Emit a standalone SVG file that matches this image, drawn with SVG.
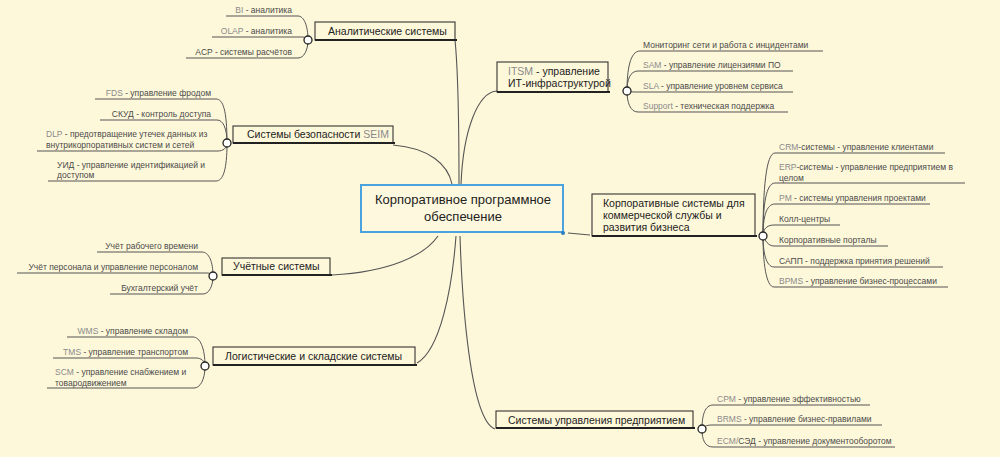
<svg xmlns="http://www.w3.org/2000/svg" width="1000" height="457" viewBox="0 0 1000 457">
<style>
.bg{fill:#fef8da}
.c{fill:none;stroke:#555;stroke-width:1.1}
.u{fill:none;stroke:#555;stroke-width:1}
.dot{fill:#fff;stroke:#222;stroke-width:1.3}
.box{fill:none;stroke:#333;stroke-width:1.1}
.bb{fill:none;stroke:#222;stroke-width:1.8}
.bt{font-family:"Liberation Sans",Arial,sans-serif;font-size:10.5px;fill:#222}
.ct{font-family:"Liberation Sans",Arial,sans-serif;font-size:13px;fill:#222;text-anchor:middle}
.t{font-family:"Liberation Sans",Arial,sans-serif;font-size:8.5px;fill:#4a4a4a}
.l{fill:#8a8a8a}
.e{text-anchor:end}
</style>
<rect class="bg" x="0" y="0" width="1000" height="457"/>

<g id="connectors">
<path class="c" d="M459 185 C459 120 458 70 455 40"/>
<path class="c" d="M497 91 C478 92 463 130 461 185"/>
<path class="c" d="M393 145 C430 148 448 165 452 184"/>
<path class="c" d="M332 275 C390 272 425 255 438 236"/>
<path class="c" d="M417 363 C440 350 452 290 456 236"/>
<path class="c" d="M460 236 C462 300 470 420 495 429"/>
<path class="c" d="M568 233 L590 235"/>
<path class="u" d="M226 16 H298 C304 16 308 26 308 40"/>
<path class="u" d="M212 37 H302 C305 37 307 38 308 40"/>
<path class="u" d="M186 58 H298 C304 58 308 50 308 40"/>
<path class="u" d="M95 99 H216 C223 99 227 110 227 143"/>
<path class="u" d="M100 120 H217 C223 120 227 128 227 143"/>
<path class="u" d="M37 151 H218 C223 151 227 148 227 143"/>
<path class="u" d="M48 181 H216 C223 181 227 170 227 143"/>
<path class="u" d="M97 252 H202 C209 252 213 262 213 276"/>
<path class="u" d="M17 273 H207 C210 273 212 274 213 276"/>
<path class="u" d="M110 294 H203 C209 294 213 286 213 276"/>
<path class="u" d="M67 337 H193 C200 337 205 348 205 366"/>
<path class="u" d="M53 358 H196 C201 358 205 361 205 366"/>
<path class="u" d="M47 388 H194 C200 388 205 380 205 366"/>
<path class="u" d="M627 91 C627 70 630 51 640 51 H823"/>
<path class="u" d="M627 91 C627 80 630 71 638 71 H793"/>
<path class="u" d="M627 91 C628 91 630 92 634 92 H793"/>
<path class="u" d="M627 91 C627 102 630 112 638 112 H788"/>
<path class="u" d="M763 236 C763 190 766 153 775 153 H945"/>
<path class="u" d="M763 236 C763 205 766 183 775 183 H965"/>
<path class="u" d="M763 236 C763 218 766 204 775 204 H930"/>
<path class="u" d="M763 236 C763 230 766 225 774 225 H840"/>
<path class="u" d="M763 236 C765 240 768 246 774 246 H888"/>
<path class="u" d="M763 236 C763 252 766 267 774 267 H943"/>
<path class="u" d="M763 236 C763 262 766 287 774 287 H948"/>
<path class="u" d="M702 429 C702 415 705 405 713 405 H870"/>
<path class="u" d="M702 429 C703 427 706 425 712 425 H882"/>
<path class="u" d="M702 429 C702 440 705 447 713 447 H895"/>
<circle class="dot" cx="308" cy="40" r="4"/>
<circle class="dot" cx="227" cy="143" r="4"/>
<circle class="dot" cx="213" cy="276" r="4"/>
<circle class="dot" cx="205" cy="366" r="4"/>
<circle class="dot" cx="627" cy="91" r="4"/>
<circle class="dot" cx="763" cy="236" r="4"/>
<circle class="dot" cx="702" cy="429" r="4"/>
</g>

<g id="center">
<rect x="361" y="185" width="202" height="47" fill="#fef9de" stroke="#4aa3df" stroke-width="2"/>
<circle cx="563" cy="233" r="2" fill="#2a7fc0"/>
<text class="ct" x="463" y="204">Корпоративное программное</text>
<text class="ct" x="463" y="221">обеспечение</text>
</g>

<g id="analytic">
<rect class="box" x="315" y="22" width="140" height="18"/>
<path class="bb" d="M315 40 H457"/>
<text class="bt" x="328" y="35">Аналитические системы</text>
<text class="t e" x="292" y="13"><tspan class="l">BI</tspan> - аналитика</text>
<text class="t e" x="292" y="34"><tspan class="l">OLAP</tspan> - аналитика</text>
<text class="t e" x="292" y="55">ACP - системы расчётов</text>
</g>

<g id="security">
<rect class="box" x="233" y="126" width="160" height="17"/>
<path class="bb" d="M233 143 H395"/>
<text class="bt" x="247" y="138">Системы безопасности <tspan class="l">SEIM</tspan></text>
<text class="t e" x="211" y="96"><tspan class="l">FDS</tspan> - управление фродом</text>
<text class="t e" x="211" y="117">СКУД - контроль доступа</text>
<text class="t" x="46" y="137"><tspan class="l">DLP</tspan> - предотвращение утечек данных из</text>
<text class="t" x="46" y="147.5">внутрикорпоративных систем и сетей</text>
<text class="t" x="57" y="167.5">УИД - управление идентификацией и</text>
<text class="t" x="57" y="178">доступом</text>
</g>

<g id="accounting">
<rect class="box" x="222" y="258" width="108" height="17"/>
<path class="bb" d="M222 275 H332"/>
<text class="bt" x="233" y="270">Учётные системы</text>
<text class="t e" x="198" y="249">Учёт рабочего времени</text>
<text class="t e" x="198" y="270">Учёт персонала и управление персоналом</text>
<text class="t e" x="198" y="291">Бухгалтерский учёт</text>
</g>

<g id="logistics">
<rect class="box" x="213" y="347" width="202" height="18"/>
<path class="bb" d="M213 365 H417"/>
<text class="bt" x="225" y="360">Логистические и складские системы</text>
<text class="t e" x="188" y="334"><tspan class="l">WMS</tspan> - управление складом</text>
<text class="t e" x="188" y="355"><tspan class="l">TMS</tspan> - управление транспортом</text>
<text class="t" x="55" y="375"><tspan class="l">SCM</tspan> - управление снабжением и</text>
<text class="t" x="55" y="385.5">товародвижением</text>
</g>

<g id="itsm">
<rect class="box" x="497" y="62" width="111" height="30"/>
<path class="bb" d="M497 92 H610"/>
<text class="bt" x="508" y="75"><tspan class="l">ITSM</tspan> - управление</text>
<text class="bt" x="508" y="87">ИТ-инфраструктурой</text>
<text class="t" x="643" y="48">Мониторинг сети и работа с инцидентами</text>
<text class="t" x="643" y="68"><tspan class="l">SAM</tspan> - управление лицензиями ПО</text>
<text class="t" x="643" y="88.5"><tspan class="l">SLA</tspan> - управление уровнем сервиса</text>
<text class="t" x="643" y="109"><tspan class="l">Support</tspan> - техническая поддержка</text>
</g>

<g id="corporate">
<rect class="box" x="592" y="194" width="163" height="42"/>
<path class="bb" d="M592 236 H757"/>
<text class="bt" x="603" y="206.5">Корпоративные системы для</text>
<text class="bt" x="603" y="218.5">коммерческой службы и</text>
<text class="bt" x="603" y="230.5">развития бизнеса</text>
<text class="t" x="779" y="150"><tspan class="l">CRM</tspan>-системы - управление клиентами</text>
<text class="t" x="779" y="170"><tspan class="l">ERP</tspan>-системы - управление предприятием в</text>
<text class="t" x="779" y="180.5">целом</text>
<text class="t" x="779" y="201"><tspan class="l">PM</tspan> - системы управления проектами</text>
<text class="t" x="779" y="222">Колл-центры</text>
<text class="t" x="779" y="243">Корпоративные порталы</text>
<text class="t" x="779" y="263.5">САПП - поддержка принятия решений</text>
<text class="t" x="779" y="284"><tspan class="l">BPMS</tspan> - управление бизнес-процессами</text>
</g>

<g id="enterprise">
<rect class="box" x="496" y="411" width="197" height="17"/>
<path class="bb" d="M496 428 H695"/>
<text class="bt" x="508" y="424">Системы управления предприятием</text>
<text class="t" x="717" y="402"><tspan class="l">CPM</tspan> - управление эффективностью</text>
<text class="t" x="717" y="422"><tspan class="l">BRMS</tspan> - управление бизнес-правилами</text>
<text class="t" x="717" y="444"><tspan class="l">ECM/</tspan>СЭД - управление документооборотом</text>
</g>
</svg>
